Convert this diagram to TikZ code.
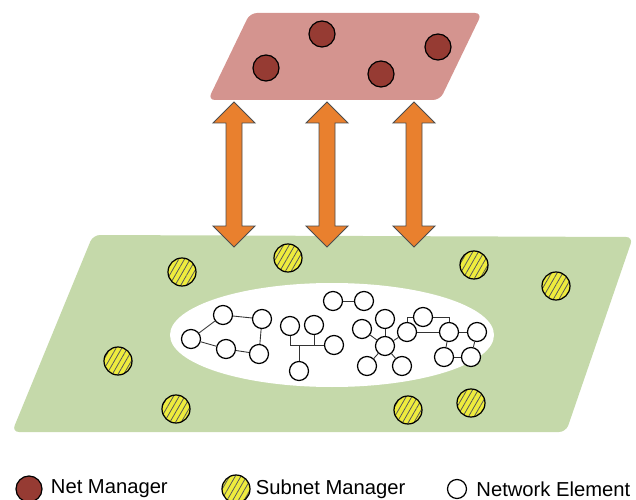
\documentclass[tikz,border=0pt]{standalone}
\usepackage{fontspec}
\setmainfont{Liberation Sans}
\usetikzlibrary{positioning,patterns.meta}
\definecolor{mgrred}{HTML}{963B33}
\definecolor{toppink}{HTML}{D4948F}
\definecolor{lowgreen}{HTML}{C5D9AA}
\definecolor{subyellow}{HTML}{EEEC3E}
\definecolor{arrorange}{HTML}{E9802E}

\begin{document}
\begin{tikzpicture}[x=0.02cm,y=-0.02cm,
                netmgr/.style = {circle, draw=black, line width=0.7pt, fill=mgrred, minimum size=0.52cm, inner sep=0},
                subnet/.style = {circle, draw=black, line width=0.7pt, minimum size=0.56cm, inner sep=0,
                                 preaction={fill=subyellow}, pattern={Lines[angle=60,distance=2.8pt,line width=0.45pt]}, pattern color=black!65},
                elem/.style = {circle, draw=black, line width=0.7pt, fill=white, minimum size=0.38cm, inner sep=0},
                link/.style = {draw=black!80, line width=0.5pt},
                updown/.style = {draw=black!70, line width=0.5pt, fill=arrorange},
                legend/.style = {inner sep=0, font=\fontsize{11.5}{14}\selectfont}]
                \useasboundingbox (0,0) rectangle (636,500);
                % layers
                \fill[toppink, rounded corners=4pt] (250,13) -- (482,13) -- (440,100) -- (208,100) -- cycle;
                \fill[lowgreen, rounded corners=4pt] (93,235) -- (633,237) -- (566,432) -- (12,432) -- cycle;
                \fill[white] (332,335) ellipse [x radius=162, y radius=52];
                % arrows between the layers
                \foreach \ax in {234,327,414}
                    \draw[updown] (\ax,102) -- ++(21,21) -- ++(-13,0) -- ++(0,103) -- ++(13,0) -- (\ax,247)
                        -- ++(-21,-21) -- ++(13,0) -- ++(0,-103) -- ++(-13,0) -- cycle;
                % net managers
                \node[netmgr] (m1) at (266,68) {};
                \node[netmgr] (m2) at (322,34) {};
                \node[netmgr] (m3) at (381,74) {};
                \node[netmgr] (m4) at (438,47) {};
                % subnet managers
                \node[subnet] (s1) at (182,272) {};
                \node[subnet] (s2) at (288,258) {};
                \node[subnet] (s3) at (474,265) {};
                \node[subnet] (s4) at (556,286) {};
                \node[subnet] (s5) at (118,361) {};
                \node[subnet] (s6) at (176,409) {};
                \node[subnet] (s7) at (408,410) {};
                \node[subnet] (s8) at (471,403) {};
                % network elements
                \node[elem] (a1) at (191,339) {};
                \node[elem] (a2) at (223,315) {};
                \node[elem] (a3) at (262,319) {};
                \node[elem] (a4) at (226,349) {};
                \node[elem] (a5) at (259,354) {};
                \node[elem] (b1) at (290,326) {};
                \node[elem] (b2) at (314,325) {};
                \node[elem] (b3) at (334,345) {};
                \node[elem] (b4) at (299,371) {};
                \node[elem] (c1) at (333,301) {};
                \node[elem] (c2) at (364,301) {};
                \node[elem] (d0) at (385,346) {};
                \node[elem] (d1) at (362,329) {};
                \node[elem] (d2) at (385,319) {};
                \node[elem] (d3) at (367,366) {};
                \node[elem] (d4) at (402,366) {};
                \node[elem] (d5) at (407,332) {};
                \node[elem] (e1) at (423,317) {};
                \node[elem] (e2) at (449,332) {};
                \node[elem] (e3) at (477,332) {};
                \node[elem] (e4) at (444,357) {};
                \node[elem] (e5) at (471,357) {};
                \path[link]
                    (a1) edge (a2)
                    (a1) edge (a4)
                    (a2) edge (a3)
                    (a3) edge (a5)
                    (a4) edge (a5)
                    (c1) edge (c2)
                    (d0) edge (d1)
                    (d0) edge (d2)
                    (d0) edge (d3)
                    (d0) edge (d4)
                    (d0) edge (d5)
                    (d5) edge (e2)
                    (e2) edge (e3)
                    (e2) edge (e4)
                    (e3) edge (e5)
                    (e4) edge (e5);
                \draw[link] (b1) |- (b3);
                \draw[link] (b2) -- (b2 |- b3);
                \draw[link] (b4) -- (b4 |- b3);
                \draw[link] (d5) |- (e1);
                \draw[link] (e1) -| (e2);
                % legend
                \node[netmgr] (lg1) at (29,489) {};
                \node[legend, right=0.16cm of lg1] (t1) {Net Manager};
                \node[subnet] (lg2) at (236,489) {};
                \node[legend, right=0.1cm of lg2] (t2) {Subnet Manager};
                \node[elem] (lg3) at (457,489) {};
                \node[legend, right=0.18cm of lg3] (t3) {Network Element};
            \end{tikzpicture}
\end{document}
